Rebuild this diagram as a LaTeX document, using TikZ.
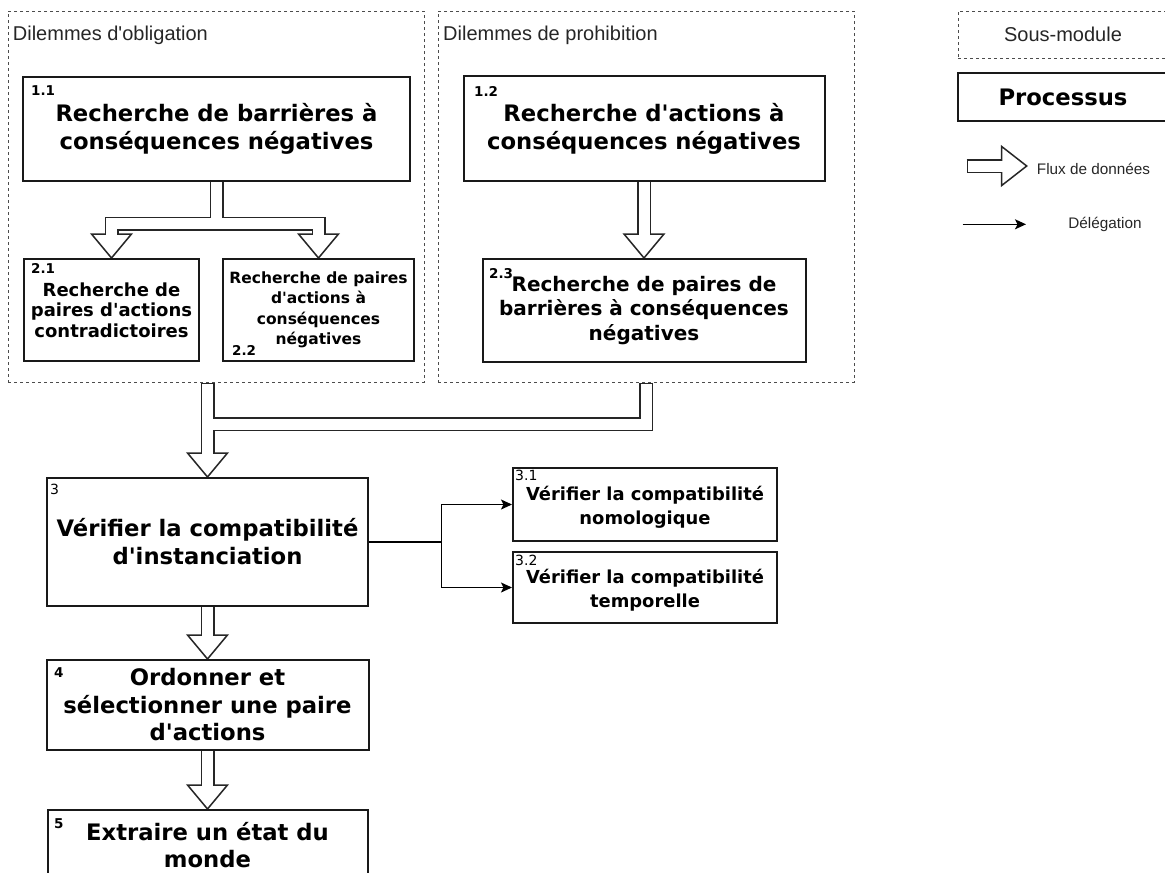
\documentclass[tikz,border=0pt]{standalone}
\usepackage{fontspec}
\newfontfamily\dvs{DejaVu Sans}
\newfontfamily\arialf{Liberation Sans}
\usetikzlibrary{calc,arrows.meta}
\pgfdeclarelayer{bg}
\pgfsetlayers{bg,main}
\begin{document}
\begin{tikzpicture}[x=1pt,y=-1pt,
  proc/.style={draw=black!90,line width=2pt,fill=white,align=center,inner sep=0pt,text=black},
  bigtxt/.style={font=\dvs\bfseries\fontsize{22.7}{28}\selectfont},
  numlbl/.style={font=\dvs\bfseries\fontsize{13.5}{15}\selectfont,inner sep=0pt,anchor=north west},
  numthin/.style={font=\dvs\fontsize{14}{15}\selectfont,inner sep=0pt,anchor=north west},
  grpbox/.style={draw=black!70,line width=1pt,dash pattern=on 3pt off 3pt,inner sep=0pt},
  grptitle/.style={font=\arialf\fontsize{20}{24}\selectfont,text=black!85,inner sep=0pt},
  legtxt/.style={font=\arialf\fontsize{15.3}{18}\selectfont,text=black!85,inner sep=0pt},
  shaftout/.style={line width=14pt,draw=black!85,line cap=butt,line join=miter},
  shaftin/.style={line width=11pt,draw=white,line cap=butt,line join=miter},
  fhead/.style={draw=black!85,fill=white,line width=1.5pt,line join=miter},
  deleg/.style={draw=black,line width=1.3pt,-{Stealth[length=11pt,width=10pt,inset=2.5pt]}}
]
\useasboundingbox (0,0) rectangle (1165,873);
\clip (0,0) rectangle (1165,873);

% containers
\node[grpbox,minimum width=416pt,minimum height=371pt] (c1) at (216,196.5) {};
\node[grpbox,minimum width=416pt,minimum height=371pt] (c2) at (646,196.5) {};
\node[grptitle,anchor=base west] (t1) at (12.7,40) {Dilemmes d'obligation};
\node[grptitle,anchor=base west] (t2) at (443,40) {Dilemmes de prohibition};

% process boxes
\node[proc,bigtxt,minimum width=387pt,minimum height=104pt] (b11) at (216.5,129) {Recherche de barrières à\\conséquences négatives};
\node[proc,bigtxt,minimum width=361pt,minimum height=105pt] (b12) at (644,128.5) {Recherche d'actions à\\conséquences négatives};
\node[proc,font=\dvs\bfseries\fontsize{18}{20.5}\selectfont,minimum width=175pt,minimum height=102pt] (b21) at (111.5,310) {Recherche de\\paires d'actions\\contradictoires};
\node[proc,font=\dvs\bfseries\fontsize{15.5}{20.5}\selectfont,minimum width=191pt,minimum height=102pt] (b22) at (318.5,310) {Recherche de paires\\d'actions à\\conséquences\\négatives};
\node[proc,font=\dvs\bfseries\fontsize{20}{24.5}\selectfont,minimum width=323pt,minimum height=103pt] (b23) at (644,310.5) {Recherche de paires de\\barrières à conséquences\\négatives};
\node[proc,bigtxt,minimum width=321pt,minimum height=128pt] (b3) at (207.5,542) {Vérifier la compatibilité\\d'instanciation};
\node[proc,font=\dvs\bfseries\fontsize{17.9}{24}\selectfont,minimum width=264pt,minimum height=73pt] (b31) at (645,504.5) {\rule{0pt}{20pt}Vérifier la compatibilité\\nomologique};
\node[proc,font=\dvs\bfseries\fontsize{17.9}{24}\selectfont,minimum width=264pt,minimum height=71pt] (b32) at (645,587.5) {\rule{0pt}{20pt}Vérifier la compatibilité\\temporelle};
\node[proc,font=\dvs\bfseries\fontsize{22.7}{27.5}\selectfont,minimum width=322pt,minimum height=90pt] (b4) at (207.5,705) {Ordonner et\\sélectionner une paire\\d'actions};
\node[proc,font=\dvs\bfseries\fontsize{22.7}{26.3}\selectfont,minimum width=320pt,minimum height=70pt] (b5) at (207.5,845) {Extraire un état du\\monde};

% number labels
\node[numlbl] (n11) at (31,85) {1.1};
\node[numlbl] (n12) at (474,86) {1.2};
\node[numlbl] (n21) at (31,263) {2.1};
\node[numlbl] (n22) at (232,345) {2.2};
\node[numlbl] (n23) at (489,268) {2.3};
\node[numthin] (n3) at (50,484) {3};
\node[numthin] (n31) at (515,470) {3.1};
\node[numthin] (n32) at (515,555) {3.2};
\node[numlbl] (n4) at (54,667) {4};
\node[numlbl] (n5) at (54,818) {5};

% legend
\node[grpbox,minimum width=210pt,minimum height=47pt,font=\arialf\fontsize{20}{24}\selectfont,text=black!85] (lsm) at (1063,34.5) {Sous-module};
\node[proc,bigtxt,minimum width=210pt,minimum height=48pt] (lpr) at (1063,97) {Processus};
\coordinate (lf1) at (966.7,166);
\coordinate (lf2) at (1026.7,166);
\node[legtxt,anchor=west] (tflux) at (1036.7,169) {Flux de données};
\coordinate (ld1) at (962.7,224.3);
\coordinate (ld2) at (1026,224.3);
\node[legtxt] (tdel) at (1105,224.3) {Délégation};

% junction coordinates
\coordinate (j1) at (216.5,223.5);
\coordinate (j3) at (207.5,424);
\coordinate (jd) at (441.5,542);

% hollow data-flow arrows
\begin{pgfonlayer}{bg}
\draw[shaftout,shorten >=24pt] (b11.south) -- (j1) -| (b21.north);
\draw[shaftout,shorten >=24pt] (j1) -| (b22.north);
\draw[shaftout,shorten >=24pt] (b12.south) -- (b23.north);
\draw[shaftout,shorten >=24pt] (c2.south) |- (j3) -- (b3.north);
\draw[shaftout,shorten >=24pt] (b3.north |- c1.south) -- (b3.north);
\draw[shaftout,shorten >=24pt] (b3.south) -- (b4.north);
\draw[shaftout,shorten >=24pt] (b4.south) -- (b5.north);
\draw[shaftout,shorten >=25pt] (lf1) -- (lf2);
\foreach \t in {b21,b22,b23,b3,b4,b5}{
  \draw[fhead] ($(\t.north)+(-20,-24)$) -- (\t.north) -- ($(\t.north)+(20,-24)$) -- cycle;
}
\draw[fhead] ($(lf2)+(-25,-19.5)$) -- (lf2) -- ($(lf2)+(-25,19.5)$) -- cycle;
\draw[shaftin,shorten >=22pt] (b11.south) -- (j1) -| (b21.north);
\draw[shaftin,shorten >=22pt] (j1) -| (b22.north);
\draw[shaftin,shorten >=22pt] (b12.south) -- (b23.north);
\draw[shaftin,shorten >=22pt,shorten <=1.5pt] (c2.south) |- (j3) -- (b3.north);
\draw[shaftin,shorten >=22pt,shorten <=1.5pt] (b3.north |- c1.south) -- (b3.north);
\draw[shaftin,shorten >=22pt] (b3.south) -- (b4.north);
\draw[shaftin,shorten >=22pt] (b4.south) -- (b5.north);
\draw[shaftin,shorten >=23pt,shorten <=1.5pt] (lf1) -- (lf2);
\end{pgfonlayer}

% delegation arrows
\draw[deleg] (b3.east) -- (jd) |- (b31.west);
\draw[deleg] (jd) |- (b32.west);
\draw[deleg] (ld1) -- (ld2);
\end{tikzpicture}
\end{document}
